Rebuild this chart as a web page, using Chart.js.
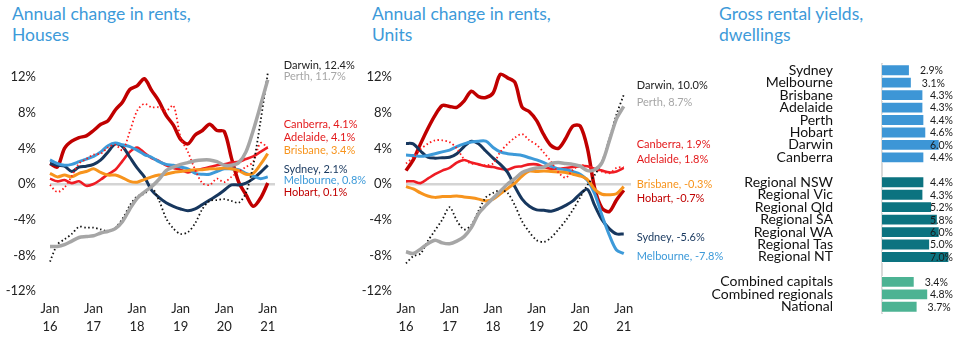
<!DOCTYPE html>
<html>
<head>
<meta charset="utf-8">
<script src="https://cdn.jsdelivr.net/npm/chart.js@4.4.1/dist/chart.umd.min.js"></script>
<style>
  body { margin: 0; background: #fff; width: 961px; height: 343px; overflow: hidden; position: relative; font-family: Lato, "Open Sans", sans-serif; }
  .title { position: absolute; top: 3px; color: #3d9ad9; font-size: 17.5px; line-height: 21px; font-family: Lato, sans-serif; font-weight: 400; }
  canvas { position: absolute; top: 0; }
</style>
</head>
<body>
<div class="title" style="left:12px">Annual change in rents,<br>Houses</div>
<div class="title" style="left:372px">Annual change in rents,<br>Units</div>
<div class="title" style="left:719px">Gross rental yields,<br>dwellings</div>
<canvas id="yields" style="left:700px" width="261" height="343"></canvas>
<canvas id="houses" style="left:0px" width="380" height="343"></canvas>
<canvas id="units" style="left:356px" width="400" height="343"></canvas>
<script>
// months since Jan 2016, every second month
const months = [0, 2, 4, 6, 8, 10, 12, 14, 16, 18, 20, 22, 24, 26, 28, 30, 32, 34, 36, 38, 40, 42, 44, 46, 48, 50, 52, 54, 56, 58, 60]
const yearTicks = [0, 12, 24, 36, 48, 60]
const yearLabels = ["16", "17", "18", "19", "20", "21"]

// Houses, annual change in rents (%)
const housesSydney = [2.3, 2.1, 2.0, 1.4, 1.9, 2.0, 2.2, 2.7, 3.6, 4.5, 4.2, 3.0, 1.8, 0.8, -0.7, -1.5, -2.1, -2.5, -2.8, -3.0, -2.8, -2.3, -1.8, -1.3, -0.7, -0.1, -0.1, 0.1, 0.6, 1.3, 2.1]
const housesMelbourne = [2.7, 2.3, 2.1, 2.2, 2.5, 2.8, 3.1, 3.6, 4.3, 4.6, 4.4, 4.2, 3.8, 3.3, 3.0, 2.5, 2.2, 2.1, 1.9, 1.7, 1.2, 1.1, 1.1, 1.4, 1.7, 1.7, 1.6, 1.2, 0.9, 0.6, 0.8]
const housesBrisbane = [1.2, 0.8, 1.0, 0.8, 1.2, 1.4, 1.7, 1.3, 1.0, 1.0, 0.7, 0.3, 0.2, 0.5, 0.8, 1.0, 1.1, 1.3, 1.4, 1.5, 1.6, 1.6, 1.7, 1.7, 1.8, 1.7, 1.5, 1.1, 1.2, 2.2, 3.4]
const housesAdelaide = [0.6, 0.3, 0.45, 0.1, 0.3, -0.2, 0.0, 0.5, 1.1, 1.6, 2.6, 3.6, 4.1, 3.5, 2.9, 2.6, 2.1, 1.8, 1.6, 1.3, 1.5, 1.7, 1.9, 2.1, 2.2, 2.4, 2.5, 2.8, 3.1, 3.6, 4.1]
const housesPerth = [-7.0, -7.0, -6.8, -6.4, -6.0, -5.9, -5.8, -5.5, -5.3, -5.0, -4.2, -2.8, -1.6, -0.9, -0.3, 0.5, 1.5, 1.9, 2.2, 2.4, 2.6, 2.7, 2.7, 2.5, 2.1, 2.1, 2.4, 3.6, 6.0, 8.8, 11.7]
const housesHobart = [2.3, 1.9, 4.0, 4.8, 5.2, 5.4, 6.0, 6.7, 7.1, 8.3, 9.2, 10.6, 11.0, 11.8, 10.5, 9.3, 7.7, 6.6, 5.0, 4.5, 5.5, 6.0, 6.7, 6.0, 5.9, 2.9, 0.2, -1.2, -2.5, -1.6, 0.1]
const housesDarwin = [-8.7, -6.8, -6.2, -5.6, -4.8, -4.9, -4.9, -5.1, -5.3, -4.9, -3.9, -2.4, -1.4, -1.1, -0.4, -1.8, -3.85, -5.0, -5.6, -5.4, -4.4, -2.8, -1.9, -1.8, -1.7, -1.9, -2.1, -1.0, 2.1, 7.0, 12.4]
const housesCanberra = [-0.1, -0.9, -0.4, 0.9, 2.3, 2.8, 3.3, 3.4, 4.1, 4.4, 3.8, 5.9, 8.2, 9.0, 8.6, 8.6, 8.2, 8.8, 5.2, 3.6, 1.6, 0.1, -0.1, 0.6, 0.2, 0.8, 1.4, 1.9, 2.5, 4.6, 4.1]

// Units, annual change in rents (%)
const unitsSydney = [4.55, 4.5, 3.7, 3.0, 2.9, 2.95, 3.0, 3.4, 4.2, 4.8, 4.5, 3.7, 2.9, 2.2, 1.3, -0.3, -1.7, -2.5, -2.9, -2.95, -3.05, -2.8, -2.4, -1.9, -1.1, -0.6, -2.4, -4.0, -5.0, -5.6, -5.6]
const unitsMelbourne = [3.25, 3.2, 3.1, 3.2, 3.4, 3.6, 3.8, 4.2, 4.5, 4.7, 4.8, 4.8, 4.1, 3.6, 3.4, 3.3, 3.2, 2.95, 2.7, 2.4, 2.0, 1.7, 1.6, 1.4, 1.1, 0.4, -1.1, -3.5, -5.7, -7.4, -7.8]
const unitsBrisbane = [-0.3, -0.55, -1.0, -1.35, -1.5, -1.4, -1.4, -1.35, -1.45, -1.55, -1.7, -1.9, -1.7, -1.1, -0.5, 0.1, 0.9, 1.45, 1.4, 1.45, 1.4, 1.35, 1.3, 1.1, 0.9, 0.5, -0.6, -1.15, -1.2, -1.1, -0.3]
const unitsAdelaide = [0.3, 0.3, 0.1, 0.6, 1.1, 1.5, 1.8, 2.4, 2.7, 2.4, 2.2, 2.0, 1.9, 1.7, 1.6, 1.9, 2.0, 2.2, 2.2, 1.9, 1.7, 1.7, 1.8, 1.9, 2.0, 2.0, 1.7, 1.5, 1.3, 1.4, 1.8]
const unitsPerth = [-7.6, -7.8, -7.3, -6.7, -6.3, -6.6, -6.7, -6.4, -5.9, -4.9, -3.3, -2.4, -1.6, -0.8, 0.0, 0.6, 1.3, 1.6, 1.8, 1.9, 2.3, 2.4, 2.3, 2.2, 2.0, 1.5, 1.6, 2.4, 4.8, 7.3, 8.7]
const unitsHobart = [1.5, 2.7, 4.5, 6.2, 7.7, 8.8, 8.7, 8.6, 9.3, 10.4, 9.8, 9.7, 10.2, 12.3, 11.9, 11.4, 8.6, 8.1, 7.1, 5.5, 4.3, 4.0, 5.1, 6.5, 6.5, 4.0, -0.5, -2.7, -3.1, -1.8, -0.7]
const unitsDarwin = [-8.9, -8.1, -7.8, -6.4, -5.2, -4.0, -2.6, -4.1, -5.1, -4.6, -3.0, -1.5, -1.0, -0.7, -1.0, -2.4, -4.2, -5.4, -6.3, -6.5, -6.0, -5.1, -4.1, -2.9, -1.5, -0.1, 1.0, 2.5, 5.0, 7.8, 10.0]
const unitsCanberra = [2.3, 3.0, 3.9, 4.5, 4.9, 4.9, 4.7, 4.0, 2.8, 2.3, 2.2, 2.1, 2.3, 3.6, 4.5, 5.2, 5.6, 4.9, 4.4, 3.5, 2.5, 1.3, 0.7, 1.6, 2.1, 2.0, 1.6, 1.4, 1.2, 1.8, 1.9]

// end-of-line label anchors (% on the y axis) so the labels do not overlap
const housesLabelAt = { Darwin: 13.3, Perth: 12.1, Canberra: 6.7, Adelaide: 5.2, Brisbane: 3.8, Sydney: 1.6, Melbourne: 0.35, Hobart: -0.9 }
const unitsLabelAt = { Darwin: 11.0, Perth: 9.2, Canberra: 4.4, Adelaide: 2.8, Brisbane: 0.0, Hobart: -1.6, Sydney: -6.0, Melbourne: -8.1 }

// Gross rental yields (%)
const yieldCategories = ["Sydney", "Melbourne", "Brisbane", "Adelaide", "Perth", "Hobart", "Darwin", "Canberra", "",
  "Regional NSW", "Regional Vic", "Regional Qld", "Regional SA", "Regional WA", "Regional Tas", "Regional NT", " ",
  "Combined capitals", "Combined regionals", "National"]
const yieldValues = [2.9, 3.1, 4.3, 4.3, 4.4, 4.6, 6.0, 4.4, null, 4.4, 4.3, 5.2, 5.8, 6.0, 5.0, 7.0, null, 3.4, 4.8, 3.7]
const yieldGroups = ["cap", "cap", "cap", "cap", "cap", "cap", "cap", "cap", "", "reg", "reg", "reg", "reg", "reg", "reg", "reg", "", "comb", "comb", "comb"]

const groupColors = { cap: "#3d96d6", reg: "#0c7380", comb: "#4cb393", "": "#fff" }

const seriesStyle = {
  Sydney: { color: "#17375e", width: 3 },
  Melbourne: { color: "#3d9ad9", width: 3 },
  Brisbane: { color: "#f7941d", width: 3 },
  Adelaide: { color: "#ee1c24", width: 2.6 },
  Perth: { color: "#a6a6a6", width: 3.5 },
  Hobart: { color: "#c00000", width: 3.5 },
  Darwin: { color: "#111111", width: 1.8, dash: [1.5, 2.5] },
  Canberra: { color: "#ff1a1a", width: 1.8, dash: [1.5, 2.5] },
}
const labelColors = { Darwin: "#222222", Perth: "#a6a6a6", Canberra: "#e31a1c", Adelaide: "#e31a1c", Brisbane: "#f7941d", Sydney: "#17375e", Melbourne: "#3d9ad9", Hobart: "#c00000" }

Chart.defaults.font.family = "Lato, 'Open Sans', sans-serif"
Chart.defaults.animation = false

const endLabels = {
  id: "endLabels",
  afterDatasetsDraw(chart, args, opts) {
    const ctx = chart.ctx
    const x = chart.scales.x.getPixelForValue(60) + opts.offset
    ctx.save()
    ctx.font = "11px Lato, sans-serif"
    ctx.textBaseline = "middle"
    chart.data.datasets.forEach((ds) => {
      const y = chart.scales.y.getPixelForValue(opts.at[ds.label])
      const last = ds.data[ds.data.length - 1].y
      ctx.fillStyle = labelColors[ds.label]
      ctx.fillText(ds.label + ", " + last.toFixed(1) + "%", x, y)
    })
    ctx.restore()
  },
}

function makeLineChart(id, series, labelAt, labelOffset, rightPad) {
  const order = ["Perth", "Darwin", "Canberra", "Brisbane", "Melbourne", "Sydney", "Adelaide", "Hobart"]
  const datasets = order.map((name) => ({
    label: name,
    data: months.map((m, i) => ({ x: m, y: series[name][i] })),
    borderColor: seriesStyle[name].color,
    borderWidth: seriesStyle[name].width,
    borderDash: seriesStyle[name].dash || [],
    pointRadius: 0,
    tension: 0.3,
    fill: false,
    clip: 8,
  }))
  return new Chart(document.getElementById(id), {
    type: "line",
    data: { datasets },
    plugins: [endLabels],
    options: {
      responsive: false,
      layout: { padding: { top: 77, right: rightPad, left: 0, bottom: 0 } },
      plugins: {
        legend: { display: false },
        tooltip: { enabled: false },
        endLabels: { at: labelAt, offset: labelOffset },
      },
      scales: {
        x: {
          type: "linear",
          min: 0,
          max: 62,
          afterBuildTicks: (scale) => { scale.ticks = yearTicks.map((v) => ({ value: v })) },
          afterFit: (scale) => { scale.height = 52 },
          grid: { display: false, drawTicks: false },
          border: { display: false },
          ticks: {
            padding: 8,
            maxRotation: 0,
            color: "#222",
            font: { size: 13, lineHeight: 1.45 },
            callback: (v) => ["Jan", yearLabels[yearTicks.indexOf(v)]],
          },
        },
        y: {
          min: -12,
          max: 12,
          afterFit: (scale) => { scale.width = 50 },
          grid: {
            drawTicks: false,
            color: (c) => (c.tick && c.tick.value === 0 ? "#d4d4d4" : "rgba(0,0,0,0)"),
            lineWidth: (c) => (c.tick && c.tick.value === 0 ? 2.5 : 0),
          },
          border: { display: false },
          ticks: {
            stepSize: 4,
            padding: 14,
            color: "#222",
            font: { size: 13 },
            callback: (v) => v + "%",
          },
        },
      },
    },
  })
}

makeLineChart("houses", {
  Sydney: housesSydney, Melbourne: housesMelbourne, Brisbane: housesBrisbane, Adelaide: housesAdelaide,
  Perth: housesPerth, Hobart: housesHobart, Darwin: housesDarwin, Canberra: housesCanberra,
}, housesLabelAt, 16, 105)

makeLineChart("units", {
  Sydney: unitsSydney, Melbourne: unitsMelbourne, Brisbane: unitsBrisbane, Adelaide: unitsAdelaide,
  Perth: unitsPerth, Hobart: unitsHobart, Darwin: unitsDarwin, Canberra: unitsCanberra,
}, unitsLabelAt, 13, 125)

const barValueLabels = {
  id: "barValueLabels",
  afterDatasetsDraw(chart) {
    const ctx = chart.ctx
    const meta = chart.getDatasetMeta(0)
    ctx.save()
    ctx.font = "10.5px Lato, sans-serif"
    ctx.fillStyle = "#1a1a1a"
    ctx.textBaseline = "middle"
    meta.data.forEach((bar, i) => {
      const v = yieldValues[i]
      if (v == null) return
      const text = v.toFixed(1) + "%"
      const w = ctx.measureText(text).width
      const x = Math.min(bar.x + 10, chart.chartArea.right - w - 6)
      ctx.fillText(text, x, bar.y + 0.5)
    })
    ctx.restore()
  },
}

new Chart(document.getElementById("yields"), {
  type: "bar",
  data: {
    labels: yieldCategories,
    datasets: [{
      data: yieldValues,
      backgroundColor: yieldGroups.map((g) => groupColors[g]),
      borderColor: "#ffffff",
      borderWidth: { top: 1, bottom: 1, right: 1, left: 0 },
      borderSkipped: "left",
      barPercentage: 0.95,
      categoryPercentage: 1,
    }],
  },
  plugins: [barValueLabels],
  options: {
    indexAxis: "y",
    responsive: false,
    layout: { padding: { top: 64, bottom: 30, left: 0, right: 2 } },
    plugins: { legend: { display: false }, tooltip: { enabled: false } },
    scales: {
      x: { display: false, min: 0, max: 8 },
      y: {
        afterFit: (scale) => {
          scale.width = 182
          scale.paddingTop = 0
          scale.paddingBottom = 0
        },
        grid: { display: false, drawTicks: false },
        border: { display: true, color: "#d9d9d9", width: 2 },
        ticks: {
          padding: 49,
          color: "#111",
          autoSkip: false,
          font: { size: 14 },
        },
      },
    },
  },
})
</script>
</body>
</html>
